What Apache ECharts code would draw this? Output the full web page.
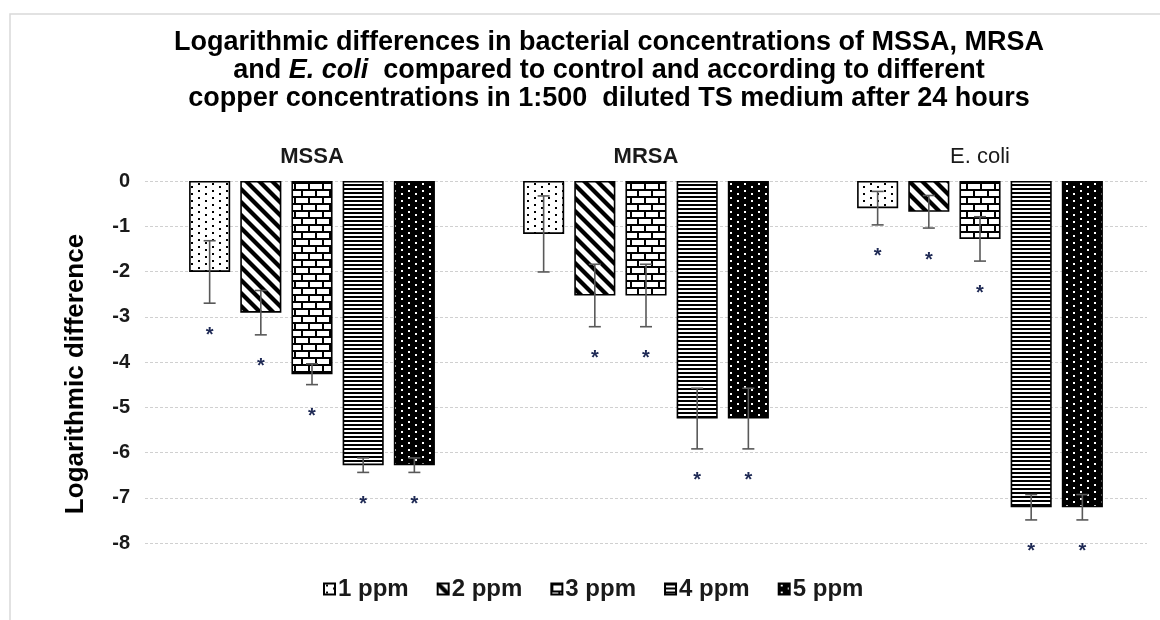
<!DOCTYPE html>
<html lang="en">
<head>
    <meta charset="UTF-8">
    <title>log differences</title>
    <script src="https://cdn.jsdelivr.net/npm/echarts@6/dist/echarts.min.js"></script>
    <style>
        html, body { margin: 0; padding: 0; background: #fff; }
    </style>
</head>
<body>
<div id="main" style="width: 1160px;height:620px;"></div>

<script type="text/javascript">
    // data
    var bacteria = ['MSSA', 'MRSA', 'E. coli'];
    var doses = ['1 ppm', '2 ppm', '3 ppm', '4 ppm', '5 ppm'];
    // mean log difference per dose, order MSSA, MRSA, E. coli
    var ppm1 = [-2.01, -1.17, -0.60];
    var ppm2 = [-2.91, -2.53, -0.68];
    var ppm3 = [-4.27, -2.53, -1.28];
    var ppm4 = [-6.28, -5.25, -7.21];
    var ppm5 = [-6.28, -5.25, -7.21];
    // error bar half-widths
    var err1 = [0.69, 0.84, 0.37];
    var err2 = [0.49, 0.69, 0.36];
    var err3 = [0.23, 0.69, 0.49];
    var err4 = [0.16, 0.67, 0.28];
    var err5 = [0.16, 0.67, 0.28];
    // significant vs control (*)
    var sig1 = [1, 0, 1];
    var sig2 = [1, 1, 1];
    var sig3 = [1, 1, 1];
    var sig4 = [1, 1, 1];
    var sig5 = [1, 1, 1];
    var yTicks = [0, -1, -2, -3, -4, -5, -6, -7, -8];

    var means = [ppm1, ppm2, ppm3, ppm4, ppm5];
    var errs = [err1, err2, err3, err4, err5];
    var sigs = [sig1, sig2, sig3, sig4, sig5];

    var CAT_GAP = 0.264, BAR_GAP = 0.245;
    var FONT = '"Liberation Sans", Arial, sans-serif';

    // hatch fills
    function tile(w, h, draw) {
        var c = document.createElement('canvas');
        c.width = w; c.height = h;
        var ctx = c.getContext('2d');
        draw(ctx, w, h);
        return { image: c, repeat: 'repeat' };
    }
    var fills = [
        tile(14, 7, function (ctx, w, h) {          // sparse dots
            ctx.fillStyle = '#fff'; ctx.fillRect(0, 0, w, h);
            ctx.fillStyle = '#000';
            ctx.fillRect(2, 1, 2, 2); ctx.fillRect(9, 4, 2, 2);
        }),
        tile(13, 13, function (ctx, w, h) {         // wide downward diagonal
            ctx.fillStyle = '#fff'; ctx.fillRect(0, 0, w, h);
            ctx.strokeStyle = '#000'; ctx.lineWidth = 4.2;
            for (var k = -1; k <= 1; k++) {
                ctx.beginPath();
                ctx.moveTo(k * w - 2, -2); ctx.lineTo(k * w + w + 2, h + 2);
                ctx.stroke();
            }
        }),
        tile(14, 14, function (ctx, w, h) {         // bricks
            ctx.fillStyle = '#fff'; ctx.fillRect(0, 0, w, h);
            ctx.fillStyle = '#000';
            ctx.fillRect(0, 0, w, 2); ctx.fillRect(0, 7, w, 2);
            ctx.fillRect(0, 0, 2, 7); ctx.fillRect(7, 7, 2, 7);
        }),
        tile(4, 4, function (ctx, w, h) {           // narrow horizontal
            ctx.fillStyle = '#fff'; ctx.fillRect(0, 0, w, h);
            ctx.fillStyle = '#000'; ctx.fillRect(0, 0, w, 2);
        }),
        tile(14, 7, function (ctx, w, h) {          // dotted black
            ctx.fillStyle = '#000'; ctx.fillRect(0, 0, w, h);
            ctx.fillStyle = '#fff';
            ctx.fillRect(2, 1, 2, 2); ctx.fillRect(9, 4, 2, 2);
        })
    ];

    var series = doses.map(function (d, i) {
        return {
            name: d,
            type: 'bar',
            data: means[i],
            barGap: (BAR_GAP * 100) + '%',
            barCategoryGap: (CAT_GAP * 100) + '%',
            itemStyle: { color: fills[i], borderColor: '#000', borderWidth: 1.6 }
        };
    });

    var errData = [];
    doses.forEach(function (d, i) {
        bacteria.forEach(function (b, j) {
            errData.push([j, means[i][j], errs[i][j], i, sigs[i][j]]);
        });
    });

    series.push({
        name: 'err',
        type: 'custom',
        data: errData,
        encode: { x: 0, y: 1 },
        z: 5,
        renderItem: function (params, api) {
            var cat = api.value(0), m = api.value(1), e = api.value(2);
            var si = api.value(3), sg = api.value(4);
            var band = api.size([1, 0])[0];
            var used = band * (1 - CAT_GAP);
            var bw = used / (doses.length + (doses.length - 1) * BAR_GAP);
            var x = api.coord([cat, 0])[0] - used / 2 + bw / 2 + si * bw * (1 + BAR_GAP);
            var yTop = api.coord([cat, m + e])[1];
            var yBot = api.coord([cat, m - e])[1];
            var st = { stroke: '#595959', lineWidth: 1.6 };
            var kids = [
                { type: 'line', shape: { x1: x, y1: yTop, x2: x, y2: yBot }, style: st },
                { type: 'line', shape: { x1: x - 6, y1: yTop, x2: x + 6, y2: yTop }, style: st },
                { type: 'line', shape: { x1: x - 6, y1: yBot, x2: x + 6, y2: yBot }, style: st }
            ];
            if (sg) {
                kids.push({
                    type: 'text',
                    style: {
                        text: '*', x: x, y: yBot + 22,
                        align: 'center', verticalAlign: 'top',
                        font: 'bold 20px ' + FONT,
                        fill: '#1f2a55'
                    }
                });
            }
            return { type: 'group', children: kids };
        }
    });

    var option = {
        animation: false,
        title: {
            text: 'Logarithmic differences in bacterial concentrations of MSSA, MRSA\n' +
                  'and {i|E. coli}  compared to control and according to different\n' +
                  'copper concentrations in 1:500  diluted TS medium after 24 hours',
            left: 609,
            textAlign: 'center',
            top: 29,
            padding: 0,
            textStyle: {
                fontFamily: FONT,
                fontSize: 27,
                fontWeight: 'bold',
                color: '#000',
                lineHeight: 28,
                rich: {
                    i: { fontStyle: 'italic', fontWeight: 'bold', fontSize: 27, lineHeight: 28,
                         fontFamily: FONT, color: '#000' }
                }
            }
        },
        graphic: [{
            type: 'rect',
            shape: { x: 10, y: 14, width: 1160, height: 620 },
            style: { fill: 'none', stroke: '#d9d9d9', lineWidth: 1.5 },
            silent: true
        }],
        legend: {
            data: doses,
            bottom: 14,
            left: 318,
            itemWidth: 11,
            itemHeight: 11,
            itemGap: 28,
            icon: 'rect',
            textStyle: {
                fontFamily: FONT,
                fontSize: 24,
                fontWeight: 'bold',
                color: '#1a1a1a',
                padding: [0, 0, 0, -2]
            }
        },
        grid: { left: 145, right: 13, top: 181, bottom: 77, containLabel: false },
        xAxis: {
            type: 'category',
            position: 'top',
            data: bacteria,
            axisLine: { show: false },
            axisTick: { show: false },
            axisLabel: {
                margin: 13,
                formatter: function (v) {
                    return v === 'E. coli' ? '{n|' + v + '}' : '{b|' + v + '}';
                },
                rich: {
                    b: { fontFamily: FONT, fontSize: 22, fontWeight: 'bold', color: '#1a1a1a' },
                    n: { fontFamily: FONT, fontSize: 22, color: '#1a1a1a' }
                }
            }
        },
        yAxis: {
            type: 'value',
            min: yTicks[yTicks.length - 1],
            max: yTicks[0],
            interval: 1,
            name: 'Logarithmic difference',
            nameLocation: 'middle',
            nameGap: 56,
            nameTextStyle: {
                fontFamily: FONT,
                fontSize: 26,
                fontWeight: 'bold',
                color: '#000',
                padding: [0, 24, 0, 0]
            },
            axisLine: { show: false },
            axisTick: { show: false },
            axisLabel: {
                margin: 15,
                fontFamily: FONT,
                fontSize: 20,
                fontWeight: 'bold',
                color: '#1a1a1a'
            },
            splitLine: { lineStyle: { color: '#d0d0d0', type: [3, 2], width: 1 } }
        },
        series: series
    };

    var myChart = echarts.init(document.getElementById('main'));
    myChart.setOption(option);
</script>
</body>
</html>
